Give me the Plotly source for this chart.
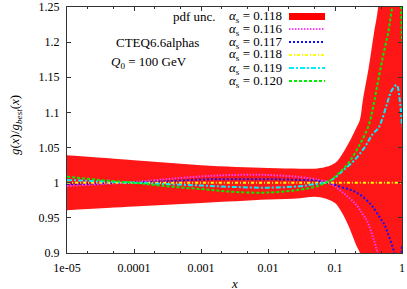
import plotly.graph_objects as go

# ---- data ----
band_x = [1e-5, 1e-4, 1e-3, 1e-2, 0.03, 0.05, 0.07, 0.084, 0.1, 0.119, 0.157, 0.21, 0.236, 0.26, 0.32, 0.38, 0.44, 0.6, 1.0]
band_up = [1.039, 1.032, 1.025, 1.021, 1.020, 1.020, 1.022, 1.024, 1.028, 1.036, 1.055, 1.079, 1.090, 1.117, 1.165, 1.212, 1.25, 1.45, 2.0]
band_lo = [0.961, 0.966, 0.971, 0.976, 0.978, 0.980, 0.978, 0.975, 0.971, 0.962, 0.940, 0.910, 0.900, 0.880, 0.840, 0.800, 0.760, 0.600, 0.300]

x116 = [1e-5, 3e-5, 1e-4, 3e-4, 1e-3, 3e-3, 1e-2, 3e-2, 0.05, 0.07, 0.084, 0.1, 0.13, 0.17, 0.21, 0.26, 0.30, 0.37, 0.44, 0.5, 0.7, 1.0]
y116 = [0.9955, 0.998, 1.001, 1.005, 1.009, 1.011, 1.011, 1.008, 1.005, 1.002, 0.999, 0.995, 0.986, 0.977, 0.968, 0.955, 0.946, 0.922, 0.898, 0.880, 0.800, 0.600]

x117 = [1e-5, 3e-5, 1e-4, 3e-4, 1e-3, 3e-3, 1e-2, 3e-2, 0.05, 0.07, 0.084, 0.1, 0.13, 0.17, 0.21, 0.26, 0.32, 0.37, 0.47, 0.55, 0.62, 0.73, 0.83, 0.92, 1.0]
y117 = [0.998, 0.999, 1.0005, 1.002, 1.0045, 1.005, 1.005, 1.004, 1.003, 1.001, 0.999, 0.997, 0.993, 0.990, 0.986, 0.980, 0.972, 0.965, 0.950, 0.940, 0.927, 0.908, 0.890, 0.885, 0.910]

x118 = [1e-5, 1e-3, 1e-1, 1.0]
y118 = [1.0, 1.0, 1.0, 1.0]

x119 = [1e-5, 3e-5, 1e-4, 3e-4, 1e-3, 3e-3, 1e-2, 3e-2, 0.05, 0.07, 0.084, 0.093, 0.13, 0.19, 0.275, 0.37, 0.44, 0.5, 0.6, 0.7, 0.83, 0.92, 1.0]
y119 = [1.004, 1.002, 1.0, 0.998, 0.996, 0.994, 0.993, 0.995, 0.998, 1.0, 1.003, 1.005, 1.017, 1.031, 1.050, 1.070, 1.077, 1.089, 1.113, 1.131, 1.139, 1.120, 1.080]

x120 = [1e-5, 3e-5, 1e-4, 3e-4, 1e-3, 3e-3, 1e-2, 3e-2, 0.05, 0.07, 0.084, 0.119, 0.167, 0.236, 0.314, 0.37, 0.44, 0.526, 0.625, 0.7, 0.8, 0.9, 0.95, 1.0]
y120 = [1.0085, 1.004, 1.0, 0.995, 0.991, 0.987, 0.986, 0.990, 0.994, 0.999, 1.003, 1.015, 1.031, 1.055, 1.080, 1.107, 1.145, 1.182, 1.215, 1.245, 1.280, 1.300, 1.270, 1.200]

xtick_vals = [1e-5, 1e-4, 1e-3, 1e-2, 1e-1, 1]
xtick_text = ["1e-05", "0.0001", "0.001", "0.01", "0.1", "1"]

legend_labels = ["0.118", "0.116", "0.117", "0.118", "0.119", "0.120"]

# ---- styles / layout ----
FONT = "Liberation Serif"
W, H = 407, 289
L, R, T, B = 67, 402, 7, 253  # plot area in pixels
RED = "rgb(255,22,22)"

series = [
    (x116, y116, "#ff40ff", "1.5px,1.5px"),
    (x117, y117, "#1010ff", "2px,2px"),
    (x118, y118, "#ffff00", "3px,2px,1px,2px"),
    (x119, y119, "#00f0ff", "5px,2px,2px,2px"),
    (x120, y120, "#00ee00", "3px,2px"),
]

fig = go.Figure()
fig.add_trace(go.Scatter(x=band_x, y=band_lo, mode="lines", line=dict(width=0, shape="spline"),
                         showlegend=False, hoverinfo="skip"))
fig.add_trace(go.Scatter(x=band_x, y=band_up, mode="lines", line=dict(width=0, shape="spline"),
                         fill="tonexty", fillcolor=RED, showlegend=False, hoverinfo="skip"))
for xs, ys, col, dash in series:
    fig.add_trace(go.Scatter(x=xs, y=ys, mode="lines",
                             line=dict(color=col, width=2, dash=dash, shape="spline"),
                             showlegend=False))


def px2paper(px, py):
    return (px - L) / (R - L), (B - py) / (B - T)


TXT = dict(family=FONT, size=13, color="black")
annotations = []
shapes = []
rows = [16, 29, 42, 55, 68, 81]
for i, (lab, py) in enumerate(zip(legend_labels, rows)):
    xa, ya = px2paper(284, py)
    annotations.append(dict(x=xa, y=ya, xref="paper", yref="paper", xanchor="right", yanchor="middle",
                            text="<i>α</i><sub>s</sub> = " + lab, showarrow=False, font=TXT))
    x0, _ = px2paper(289, py)
    x1, _ = px2paper(325, py)
    if i == 0:
        _, y0 = px2paper(0, py + 4)
        _, y1 = px2paper(0, py - 3)
        shapes.append(dict(type="rect", xref="paper", yref="paper", x0=x0, x1=x1, y0=y0, y1=y1,
                           fillcolor="rgb(255,0,0)", line=dict(width=0)))
    else:
        xs, ys, col, dash = series[i - 1]
        shapes.append(dict(type="line", xref="paper", yref="paper", x0=x0, x1=x1, y0=ya, y1=ya,
                           line=dict(color=col, width=2, dash=dash)))

xa, ya = px2paper(218, 16)
annotations.append(dict(x=xa, y=ya, xref="paper", yref="paper", xanchor="right", yanchor="middle",
                        text="pdf unc.", showarrow=False, font=TXT))
xa, ya = px2paper(114, 42)
annotations.append(dict(x=xa, y=ya, xref="paper", yref="paper", xanchor="left", yanchor="middle",
                        text="CTEQ6.6alphas", showarrow=False, font=TXT))
xa, ya = px2paper(109, 62)
annotations.append(dict(x=xa, y=ya, xref="paper", yref="paper", xanchor="left", yanchor="middle",
                        text="<i>Q</i><sub>0</sub> = 100 GeV", showarrow=False, font=TXT))
xa, ya = px2paper(234, 283)
annotations.append(dict(x=xa, y=ya, xref="paper", yref="paper", xanchor="center", yanchor="middle",
                        text="<i>x</i>", showarrow=False, font=TXT))
xa, ya = px2paper(16, 125)
annotations.append(dict(x=xa, y=ya, xref="paper", yref="paper", xanchor="center", yanchor="middle",
                        textangle=-90, showarrow=False, font=TXT,
                        text="<i>g</i>(<i>x</i>)/<i>g</i><sub><i>best</i></sub>(<i>x</i>)"))

axis_common = dict(showgrid=False, zeroline=False, showline=True, linecolor="#333", linewidth=1,
                   mirror="allticks", ticks="inside", ticklen=4, tickcolor="#333", automargin=False,
                   ticklabeloverflow="allow",
                   tickfont=dict(family=FONT, size=12, color="black"))

fig.update_layout(
    width=W, height=H,
    margin=dict(l=L, r=W - R, t=T, b=H - B, pad=0),
    paper_bgcolor="white", plot_bgcolor="white",
    xaxis=dict(type="log", range=[-5, 0], tickvals=xtick_vals, ticktext=xtick_text,
               ticklabelstandoff=4,
               minor=dict(ticks="inside", ticklen=2, tickcolor="#333", dtick="D2"),
               **axis_common),
    yaxis=dict(range=[0.9, 1.25], dtick=0.05, tick0=0.9, ticklabelstandoff=4,
               **axis_common),
    annotations=annotations,
    shapes=shapes,
    showlegend=False,
    hovermode=False,
)

fig.write_html("out.html", config={"displayModeBar": False, "staticPlot": True},
               post_script="document.body.style.margin='0px';")
